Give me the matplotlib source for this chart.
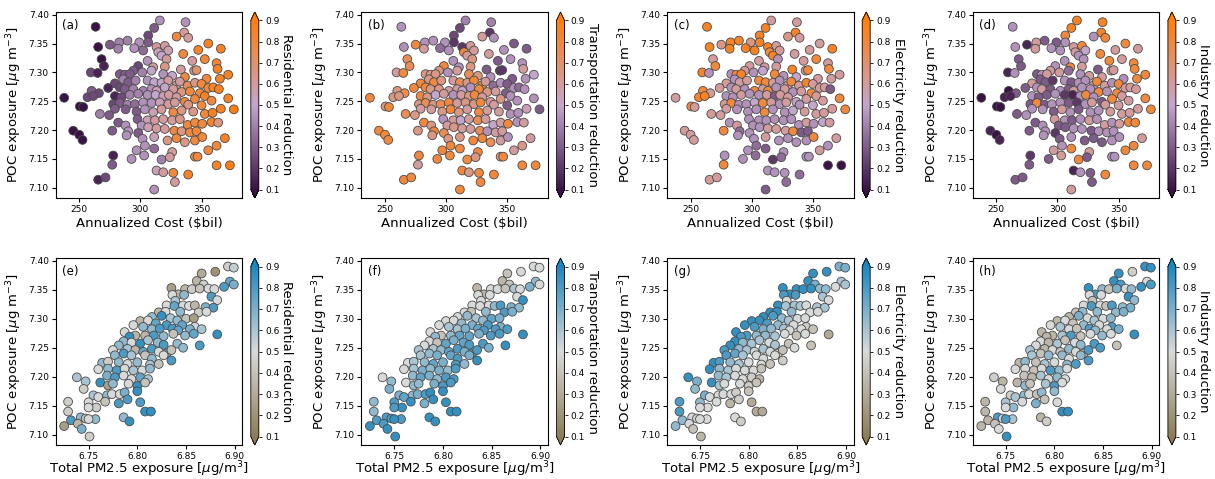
import matplotlib
matplotlib.use('Agg')
import matplotlib.pyplot as plt
from matplotlib.colors import LinearSegmentedColormap
import numpy as np

# Scenario results: annualized cost vs. POC exposure (top row)
cost = [315.9, 336.9, 263.4, 311.3, 335.8, 306.4, 329.6, 339.1, 306.4, 275.1,
        282.7, 289.5, 299.1, 265.5, 281.9, 295.0, 313.2, 320.0, 314.6, 302.3,
        322.8, 347.3, 355.5, 365.8, 335.0, 268.3, 305.9, 317.3, 321.4, 342.4,
        362.3, 352.7, 270.2, 298.2, 294.2, 310.5, 320.0, 309.1, 333.1, 344.0,
        345.9, 259.5, 265.0, 283.2, 287.3, 291.4, 301.5, 318.7, 326.0, 336.4,
        354.1, 365.0, 371.8, 363.1, 286.0, 290.1, 279.2, 296.1, 305.9, 311.3,
        317.3, 322.8, 329.6, 332.3, 338.6, 344.6, 350.0, 355.5, 359.6, 364.2,
        260.1, 266.1, 273.7, 283.2, 287.3, 294.2, 302.3, 309.1, 313.2, 320.0,
        326.9, 333.7, 340.5, 348.7, 352.7, 256.8, 237.7, 261.5, 279.2, 284.6,
        291.4, 298.2, 305.9, 312.4, 318.7, 323.3, 329.6, 336.4, 344.6, 358.2,
        371.8, 277.8, 283.2, 289.5, 295.5, 302.3, 309.1, 315.9, 322.8, 328.2,
        339.1, 350.0, 250.5, 253.3, 279.2, 287.9, 296.9, 303.7, 310.5, 317.3,
        326.9, 333.7, 343.2, 352.7, 359.0, 365.8, 376.4, 266.9, 274.5, 297.7,
        305.9, 311.9, 318.7, 326.0, 332.3, 338.6, 344.6, 350.6, 358.2, 363.6,
        281.9, 287.9, 301.0, 306.4, 313.2, 320.0, 327.7, 333.7, 340.5, 345.9,
        277.0, 245.1, 250.0, 290.1, 298.2, 252.7, 288.7, 301.8, 311.3, 322.2,
        329.6, 336.4, 344.6, 350.6, 369.1, 303.7, 311.3, 296.9, 355.5, 362.3,
        277.8, 292.8, 303.1, 317.3, 326.0, 324.1, 344.6, 346.7, 277.0, 362.3,
        373.2, 313.2, 318.7, 326.9, 339.1, 265.5, 271.5, 328.2, 311.3]

poc_top = [7.390, 7.387, 7.379, 7.377, 7.369, 7.364, 7.362, 7.360, 7.352, 7.348,
           7.352, 7.355, 7.352, 7.344, 7.341, 7.342, 7.344, 7.346, 7.335, 7.338,
           7.338, 7.339, 7.350, 7.341, 7.332, 7.323, 7.320, 7.329, 7.323, 7.320,
           7.316, 7.323, 7.311, 7.311, 7.303, 7.309, 7.310, 7.303, 7.305, 7.303,
           7.304, 7.300, 7.299, 7.297, 7.296, 7.297, 7.300, 7.297, 7.294, 7.292,
           7.289, 7.289, 7.296, 7.306, 7.288, 7.283, 7.281, 7.286, 7.286, 7.283,
           7.282, 7.286, 7.278, 7.284, 7.277, 7.282, 7.280, 7.273, 7.274, 7.271,
           7.268, 7.264, 7.273, 7.274, 7.271, 7.271, 7.268, 7.271, 7.268, 7.274,
           7.271, 7.266, 7.267, 7.264, 7.259, 7.257, 7.256, 7.259, 7.259, 7.257,
           7.261, 7.263, 7.261, 7.261, 7.259, 7.261, 7.257, 7.249, 7.254, 7.251,
           7.255, 7.245, 7.247, 7.244, 7.245, 7.248, 7.247, 7.248, 7.245, 7.248,
           7.244, 7.243, 7.241, 7.240, 7.237, 7.236, 7.232, 7.236, 7.231, 7.236,
           7.231, 7.234, 7.232, 7.228, 7.230, 7.237, 7.236, 7.228, 7.226, 7.219,
           7.217, 7.217, 7.219, 7.217, 7.219, 7.209, 7.213, 7.211, 7.214, 7.213,
           7.213, 7.208, 7.208, 7.205, 7.203, 7.202, 7.199, 7.198, 7.196, 7.198,
           7.199, 7.199, 7.192, 7.198, 7.195, 7.183, 7.191, 7.185, 7.188, 7.182,
           7.186, 7.179, 7.182, 7.188, 7.186, 7.173, 7.168, 7.165, 7.165, 7.173,
           7.156, 7.150, 7.156, 7.149, 7.162, 7.153, 7.154, 7.154, 7.140, 7.139,
           7.139, 7.130, 7.127, 7.126, 7.123, 7.114, 7.118, 7.110, 7.097]

top_res = [.45, .45, .1, .3, .6, .25, .8, .6, .3, .3,
           .4, .4, .45, .1, .4, .45, .6, .6, .55, .35,
           .55, .85, .85, .85, .8, .1, .45, .5, .6, .6,
           .8, .8, .15, .25, .3, .6, .65, .5, .6, .6,
           .7, .25, .15, .3, .3, .3, .4, .45, .5, .8,
           .8, .85, .85, .85, .4, .3, .25, .4, .45, .5,
           .5, .6, .6, .6, .75, .65, .8, .8, .85, .85,
           .3, .25, .15, .25, .3, .4, .4, .45, .55, .5,
           .6, .65, .8, .8, .85, .25, .1, .25, .15, .25,
           .4, .4, .45, .5, .55, .6, .6, .8, .8, .8,
           .85, .25, .3, .4, .35, .45, .45, .55, .6, .6,
           .65, .8, .1, .1, .3, .3, .3, .45, .55, .6,
           .8, .65, .65, .8, .85, .85, .9, .4, .3, .3,
           .55, .6, .6, .6, .65, .8, .8, .8, .85, .65,
           .3, .45, .45, .55, .6, .6, .8, .65, .8, .8,
           .3, .1, .1, .45, .3, .1, .45, .45, .55, .65,
           .8, .65, .8, .8, .85, .45, .35, .45, .8, .8,
           .15, .45, .45, .4, .6, .6, .8, .8, .3, .85,
           .9, .55, .6, .8, .85, .15, .25, .6, .45]

top_trans = [.4, .4, .45, .25, .2, .25, .6, .45, .2, .8,
             .45, .45, .45, .45, .6, .35, .2, .6, .8, .45,
             .6, .45, .3, .3, .6, .75, .45, .6, .65, .3,
             .45, .45, .75, .8, .65, .45, .65, .6, .3, .2,
             .2, .6, .8, .65, .65, .65, .45, .75, .65, .45,
             .3, .45, .5, .6, .65, .8, .8, .65, .6, .75,
             .65, .8, .8, .6, .35, .45, .3, .45, .35, .45,
             .65, .75, .8, .8, .65, .65, .6, .6, .5, .45,
             .8, .65, .6, .3, .45, .65, .8, .65, .8, .65,
             .5, .6, .45, .6, .65, .8, .6, .6, .65, .45,
             .45, .65, .75, .65, .75, .8, .6, .65, .65, .8,
             .6, .3, .65, .8, .6, .6, .65, .8, .65, .6,
             .8, .6, .6, .45, .45, .55, .3, .75, .65, .45,
             .6, .5, .6, .75, .6, .5, .6, .8, .45, .6,
             .8, .65, .6, .65, .6, .6, .75, .45, .6, .6,
             .65, .8, .8, .8, .75, .8, .65, .65, .65, .8,
             .8, .75, .6, .45, .6, .8, .8, .8, .6, .65,
             .8, .8, .8, .8, .8, .65, .65, .8, .6, .8,
             .8, .8, .65, .8, .8, .8, .8, .8, .8]

top_elec = [.6, .6, .85, .85, .85, .85, .65, .6, .85, .65,
            .85, .85, .65, .85, .85, .85, .85, .6, .8, .85,
            .6, .6, .6, .85, .6, .6, .6, .85, .45, .6,
            .6, .8, .8, .6, .6, .6, .6, .5, .85, .6,
            .8, .85, .45, .45, .8, .85, .45, .8, .45, .5,
            .6, .6, .6, .8, .45, .6, .6, .6, .8, .8,
            .6, .45, .6, .8, .6, .85, .6, .6, .6, .3,
            .8, .6, .6, .45, .6, .45, .8, .6, .8, .45,
            .6, .45, .6, .8, .6, .85, .6, .85, .45, .45,
            .6, .45, .45, .6, .3, .6, .6, .5, .6, .6,
            .8, .6, .8, .45, .45, .5, .8, .6, .45, .6,
            .45, .5, .8, .6, .6, .45, .45, .45, .8, .45,
            .45, .5, .6, .6, .6, .6, .8, .6, .6, .45,
            .45, .45, .45, .45, .45, .45, .6, .45, .5, .6,
            .45, .6, .45, .45, .6, .6, .6, .8, .3, .3,
            .8, .6, .6, .35, .45, .6, .45, .45, .6, .45,
            .45, .45, .45, .8, .6, .35, .3, .45, .6, .45,
            .45, .45, .35, .2, .45, .35, .45, .45, .8, .1,
            .1, .45, .45, .45, .35, .6, .6, .35, .3]

top_ind = [.85, .85, .45, .85, .85, .8, .45, .8, .45, .15,
           .6, .3, .3, .45, .6, .45, .6, .8, .6, .45,
           .5, .6, .8, .6, .8, .3, .45, .45, .45, .8,
           .8, .6, .3, .45, .6, .8, .6, .35, .3, .6,
           .6, .15, .45, .3, .45, .6, .6, .45, .6, .6,
           .45, .8, .8, .8, .3, .3, .6, .2, .45, .3,
           .45, .45, .6, .8, .6, .45, .8, .6, .6, .6,
           .1, .3, .3, .45, .6, .3, .45, .3, .6, .45,
           .45, .8, .45, .8, .6, .15, .1, .15, .45, .3,
           .3, .45, .2, .15, .45, .8, .45, .3, .8, .6,
           .8, .3, .8, .3, .45, .45, .3, .2, .45, .6,
           .6, .6, .1, .1, .45, .45, .3, .6, .45, .3,
           .45, .45, .6, .6, .6, .6, .8, .3, .45, .6,
           .45, .3, .45, .6, .45, .6, .45, .6, .8, .8,
           .3, .45, .3, .3, .45, .45, .3, .45, .45, .45,
           .3, .15, .1, .45, .2, .15, .45, .3, .45, .3,
           .3, .3, .45, .45, .6, .45, .8, .6, .8, .8,
           .2, .3, .6, .8, .6, .3, .45, .45, .3, .8,
           .8, .15, .45, .3, .8, .3, .3, .3, .6]

# Same scenarios: total PM2.5 exposure vs. POC exposure (bottom row)
pm25 = [6.893, 6.899, 6.880, 6.866, 6.861, 6.868, 6.895, 6.889, 6.899, 6.835,
        6.849, 6.856, 6.864, 6.873, 6.879, 6.842, 6.836, 6.848, 6.876, 6.882,
        6.839, 6.830, 6.838, 6.847, 6.853, 6.859, 6.870, 6.878, 6.822, 6.829,
        6.844, 6.863, 6.871, 6.815, 6.825, 6.834, 6.841, 6.850, 6.858, 6.803,
        6.811, 6.819, 6.830, 6.846, 6.859, 6.866, 6.796, 6.806, 6.815, 6.823,
        6.836, 6.842, 6.854, 6.787, 6.798, 6.792, 6.808, 6.817, 6.827, 6.837,
        6.849, 6.858, 6.882, 6.786, 6.794, 6.803, 6.811, 6.821, 6.827, 6.841,
        6.847, 6.864, 6.781, 6.775, 6.790, 6.798, 6.806, 6.815, 6.822, 6.830,
        6.835, 6.777, 6.786, 6.794, 6.808, 6.815, 6.827, 6.835, 6.764, 6.770,
        6.781, 6.790, 6.800, 6.813, 6.822, 6.760, 6.770, 6.779, 6.787, 6.796,
        6.805, 6.813, 6.769, 6.777, 6.786, 6.794, 6.803, 6.811, 6.738, 6.747,
        6.762, 6.770, 6.775, 6.791, 6.800, 6.808, 6.745, 6.755, 6.760, 6.769,
        6.774, 6.782, 6.787, 6.800, 6.729, 6.750, 6.758, 6.767, 6.781, 6.790,
        6.803, 6.750, 6.729, 6.742, 6.747, 6.757, 6.786, 6.808, 6.814, 6.732,
        6.739, 6.750, 6.792, 6.725, 6.743, 6.751]

poc_bot = [7.390, 7.388, 7.381, 7.378, 7.365, 7.359, 7.364, 7.355, 7.359, 7.353,
           7.351, 7.351, 7.352, 7.352, 7.351, 7.342, 7.341, 7.341, 7.338, 7.332,
           7.331, 7.323, 7.322, 7.323, 7.322, 7.323, 7.320, 7.319, 7.311, 7.312,
           7.312, 7.311, 7.312, 7.303, 7.305, 7.301, 7.297, 7.300, 7.301, 7.296,
           7.297, 7.292, 7.289, 7.289, 7.286, 7.282, 7.289, 7.286, 7.282, 7.283,
           7.283, 7.280, 7.282, 7.277, 7.271, 7.269, 7.271, 7.271, 7.270, 7.274,
           7.271, 7.274, 7.273, 7.261, 7.259, 7.257, 7.263, 7.259, 7.255, 7.257,
           7.250, 7.254, 7.254, 7.246, 7.248, 7.246, 7.243, 7.248, 7.243, 7.240,
           7.246, 7.237, 7.240, 7.237, 7.237, 7.231, 7.237, 7.228, 7.224, 7.226,
           7.225, 7.222, 7.225, 7.221, 7.222, 7.213, 7.214, 7.211, 7.214, 7.211,
           7.211, 7.214, 7.202, 7.199, 7.202, 7.196, 7.199, 7.196, 7.199, 7.192,
           7.190, 7.185, 7.188, 7.188, 7.184, 7.190, 7.179, 7.168, 7.165, 7.168,
           7.170, 7.170, 7.173, 7.175, 7.157, 7.156, 7.147, 7.157, 7.154, 7.161,
           7.156, 7.147, 7.140, 7.130, 7.128, 7.127, 7.130, 7.140, 7.140, 7.125,
           7.119, 7.127, 7.123, 7.115, 7.110, 7.097]

bot_res = [.45, .55, .2, .3, .35, .45, .75, .8, .7, .25,
           .35, .45, .4, .5, .5, .35, .5, .65, .8, .5,
           .6, .5, .75, .5, .5, .35, .7, .8, .35, .5,
           .65, .45, .5, .65, .85, .6, .65, .4, .25, .35,
           .5, .75, .8, .75, .5, .6, .5, .65, .65, .8,
           .8, .75, .7, .5, .35, .85, .35, .8, .65, .4,
           .65, .75, .85, .65, .5, .85, .6, .65, .8, .65,
           .65, .8, .65, .5, .6, .35, .75, .8, .5, .75,
           .4, .65, .8, .6, .4, .65, .5, .8, .65, .45,
           .65, .5, .65, .6, .4, .5, .65, .8, .5, .6,
           .5, .65, .7, .8, .5, .5, .75, .6, .6, .6,
           .85, .25, .65, .5, .85, .4, .45, .6, .5, .65,
           .5, .5, .7, .85, .45, .5, .45, .4, .8, .8,
           .8, .5, .45, .65, .4, .65, .65, .85, .85, .8,
           .35, .5, .85, .25, .7, .45]

bot_trans = [.5, .5, .5, .4, .35, .4, .65, .7, .5, .35,
             .5, .5, .4, .6, .5, .35, .5, .5, .5, .85,
             .5, .5, .5, .5, .65, .8, .7, .65, .5, .4,
             .65, .8, .7, .5, .65, .6, .65, .75, .7, .5,
             .5, .65, .7, .8, .7, .8, .5, .6, .6, .7,
             .75, .8, .8, .5, .4, .65, .65, .75, .75, .7,
             .8, .8, .85, .5, .4, .75, .7, .75, .8, .8,
             .7, .85, .5, .6, .6, .65, .75, .8, .7, .8,
             .8, .6, .65, .7, .75, .8, .7, .85, .5, .6,
             .65, .75, .7, .8, .65, .5, .6, .7, .65, .7,
             .65, .8, .65, .75, .7, .65, .8, .8, .5, .65,
             .5, .65, .65, .7, .8, .8, .7, .7, .75, .65,
             .7, .8, .85, .85, .65, .8, .85, .85, .7, .85,
             .85, .8, .65, .8, .8, .8, .85, .85, .85, .8,
             .8, .85, .85, .85, .85, .85]

bot_elec = [.7, .7, .85, .85, .85, .7, .6, .5, .6, .85,
            .85, .85, .85, .65, .65, .85, .8, .8, .6, .5,
            .5, .85, .6, .6, .6, .5, .6, .6, .85, .85,
            .65, .5, .5, .85, .8, .65, .6, .5, .5, .85,
            .85, .8, .65, .5, .45, .4, .85, .8, .7, .65,
            .6, .5, .5, .85, .8, .8, .65, .65, .6, .5,
            .4, .5, .3, .85, .65, .6, .6, .5, .6, .4,
            .5, .4, .85, .8, .65, .6, .5, .6, .5, .5,
            .4, .8, .75, .6, .5, .5, .5, .45, .85, .8,
            .65, .6, .5, .5, .4, .85, .65, .6, .5, .5,
            .5, .4, .65, .6, .5, .5, .45, .35, .85, .7,
            .85, .6, .5, .5, .45, .4, .65, .7, .5, .5,
            .5, .5, .45, .4, .8, .65, .5, .5, .35, .45,
            .3, .5, .8, .5, .5, .5, .5, .3, .3, .65,
            .5, .5, .45, .65, .4, .35]

bot_ind = [.85, .85, .45, .85, .85, .8, .5, .85, .8, .85,
           .65, .4, .7, .5, .65, .8, .5, .5, .85, .65,
           .4, .5, .8, .5, .4, .8, .65, .7, .4, .65,
           .65, .65, .7, .35, .7, .5, .6, .5, .65, .35,
           .5, .4, .65, .5, .8, .7, .5, .6, .5, .4,
           .8, .65, .5, .35, .35, .35, .6, .8, .4, .5,
           .65, .5, .85, .5, .35, .6, .4, .5, .65, .8,
           .8, .4, .5, .6, .35, .5, .4, .65, .5, .4,
           .8, .6, .4, .65, .65, .5, .65, .8, .35, .65,
           .4, .6, .5, .65, .8, .5, .5, .4, .5, .8,
           .65, .5, .4, .35, .6, .5, .65, .5, .45, .35,
           .35, .65, .4, .6, .8, .5, .5, .45, .6, .65,
           .5, .4, .65, .65, .35, .6, .65, .5, .7, .4,
           .5, .5, .35, .8, .5, .6, .35, .85, .85, .35,
           .4, .8, .45, .35, .5, .85]

sectors = ['Residential', 'Transportation', 'Electricity', 'Industry']
panel_tags = ['abcd', 'efgh']

cost_cmap = LinearSegmentedColormap.from_list('cost_cmap', ['#3a1345', '#c4a5cd', '#ff7f0e'])
pm_cmap = LinearSegmentedColormap.from_list('pm_cmap', ['#8c7d57', '#d9d9d9', '#1d87bf'])

rows = [
    (cost, poc_top, [top_res, top_trans, top_elec, top_ind], cost_cmap,
     'Annualized Cost ($bil)', [250, 300, 350], '%d', 2),
    (pm25, poc_bot, [bot_res, bot_trans, bot_elec, bot_ind], pm_cmap,
     r'Total PM2.5 exposure [$\mu$g/m$^3$]', [6.75, 6.80, 6.85, 6.90], '%.2f', -1),
]

W, H = 1215, 479
fig = plt.figure(figsize=(W / 100, H / 100), dpi=100)

# axes boxes in pixels: left of first panel, panel step, width; row top/bottom
left0, step, width = 55.7, 305.7, 186.6
row_box = [(12, 198), (258, 445)]

for r, (xs, ys, shares, cmap, xlabel, xticks, xfmt, xpad) in enumerate(rows):
    top, bottom = row_box[r]
    for i in range(4):
        x0 = left0 + i * step
        ax = fig.add_axes([x0 / W, 1 - bottom / H, width / W, (bottom - top) / H])
        sc = ax.scatter(xs, ys, c=shares[i], cmap=cmap, vmin=0.1, vmax=0.9,
                        s=40, edgecolors='#4a4a4a', linewidths=0.6)
        ax.set_xticks(xticks)
        ax.xaxis.set_major_formatter(matplotlib.ticker.FormatStrFormatter(xfmt))
        ax.set_yticks(np.arange(7.10, 7.401, 0.05))
        ax.yaxis.set_major_formatter(matplotlib.ticker.FormatStrFormatter('%.2f'))
        ax.tick_params(labelsize=6.5, length=3, width=0.8, pad=2)
        ax.set_xlabel(xlabel, fontsize=9.5, labelpad=xpad)
        ax.set_ylabel(r'POC exposure [$\mu$g m$^{-3}$]', fontsize=9.5, labelpad=3)
        ax.text(0.035, 0.96, '(%s)' % panel_tags[r][i], transform=ax.transAxes,
                fontsize=8.5, va='top', ha='left')

        cax = fig.add_axes([(x0 + width + 8.5) / W, 1 - bottom / H, 8 / W, (bottom - top) / H])
        cb = fig.colorbar(sc, cax=cax, extend='both')
        cb.set_ticks(np.arange(0.1, 0.91, 0.1))
        cb.ax.yaxis.set_major_formatter(matplotlib.ticker.FormatStrFormatter('%.1f'))
        cb.ax.tick_params(labelsize=6.5, length=2.5, width=0.6, pad=2)
        cb.outline.set_linewidth(0.6)
        cb.set_label('%s reduction' % sectors[i], rotation=270, fontsize=9.5, labelpad=10)

fig.savefig('out.png', dpi=100)
